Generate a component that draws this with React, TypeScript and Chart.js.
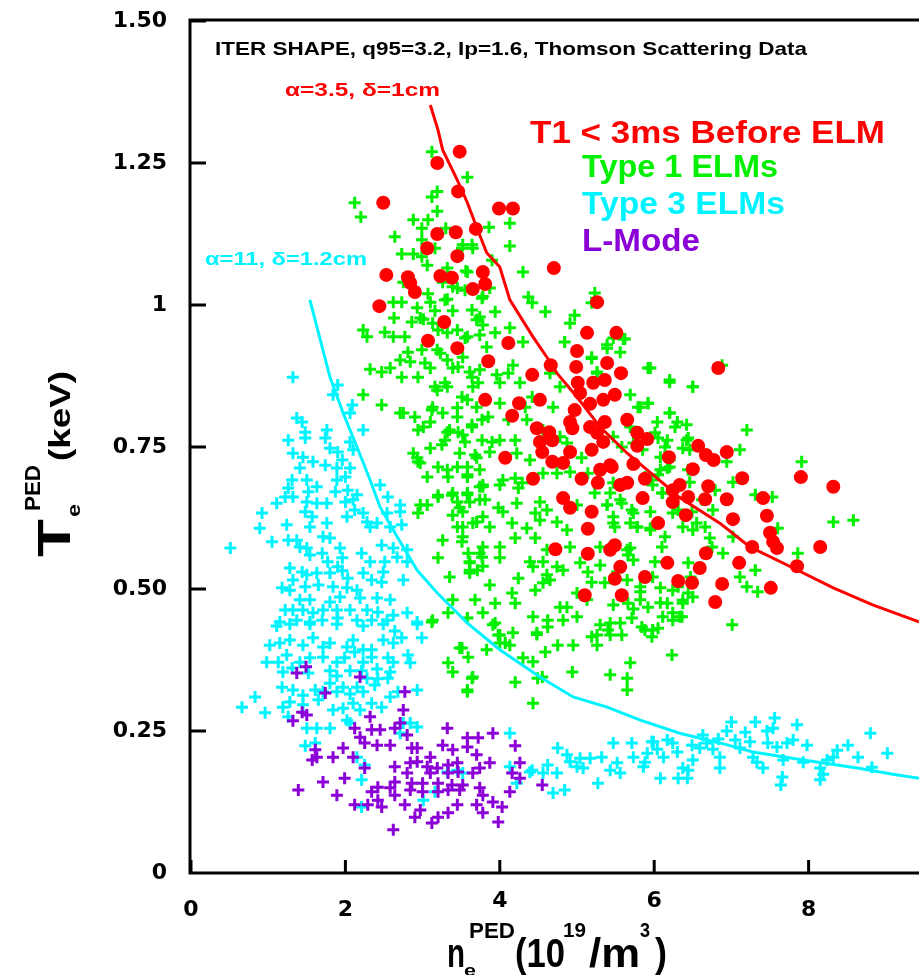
import React, { useEffect, useRef } from "react";
import { Chart, registerables } from "chart.js";

Chart.register(...registerables);

// ---------- axis ticks ----------
const xTickValues = [0, 2, 4, 6, 8];
const yTickLabels: Record<string, string> = {
  "0": "0", "0.25": "0.25", "0.5": "0.50", "0.75": "0.75", "1": "1", "1.25": "1.25", "1.5": "1.50",
};

// ---------- fit curves ----------
const curveAlpha35: number[][] = [
  [3.10, 1.352], [3.20, 1.308], [3.26, 1.273], [3.45, 1.220], [3.58, 1.180], [3.70, 1.137], [3.83, 1.092],
  [4.00, 1.067], [4.13, 1.009], [4.43, 0.944], [4.61, 0.908], [4.74, 0.880], [5.00, 0.838], [5.30, 0.785],
  [5.65, 0.739], [6.17, 0.680], [6.24, 0.669], [6.85, 0.616], [7.24, 0.574], [7.80, 0.537], [8.32, 0.502],
  [8.83, 0.472], [9.43, 0.442],
];
const curveAlpha11: number[][] = [
  [1.54, 1.009], [1.80, 0.873], [1.97, 0.810], [2.15, 0.750], [2.32, 0.692], [2.45, 0.644], [2.67, 0.592],
  [2.93, 0.533], [3.19, 0.493], [3.58, 0.440], [4.00, 0.393], [4.52, 0.345], [4.95, 0.310], [5.39, 0.292],
  [5.82, 0.269], [6.33, 0.246], [6.85, 0.229], [7.28, 0.213], [7.93, 0.199], [8.63, 0.185], [9.09, 0.174],
  [9.43, 0.167],
];

// ---------- T1 < 3ms before ELM ----------
const t1BeforeElm: number[][] = [
  [3.48, 1.27], [3.19, 1.25], [3.46, 1.20], [2.49, 1.18], [3.99, 1.17], [4.17, 1.17], [3.19, 1.125], [3.43, 1.128],
  [3.69, 1.134], [3.06, 1.10], [3.45, 1.086], [2.53, 1.053], [2.81, 1.049], [2.84, 1.039], [2.90, 1.023], [3.23, 1.051],
  [3.38, 1.048], [3.65, 1.028], [3.78, 1.058], [3.81, 1.037], [2.44, 0.998], [3.28, 0.970], [3.07, 0.937], [3.45, 0.924],
  [3.85, 0.901], [4.70, 1.065], [5.26, 1.005], [4.11, 0.933], [5.13, 0.951], [5.51, 0.951], [5.00, 0.919], [4.66, 0.894],
  [4.99, 0.891], [5.39, 0.898], [5.57, 0.880], [4.42, 0.877], [5.01, 0.863], [5.21, 0.863], [5.36, 0.868], [5.04, 0.845],
  [5.34, 0.833], [5.49, 0.842], [3.81, 0.833], [4.25, 0.827], [4.52, 0.833], [5.17, 0.826], [4.16, 0.805], [4.97, 0.815],
  [4.91, 0.794], [4.94, 0.783], [4.48, 0.783], [4.64, 0.776], [5.17, 0.785], [5.36, 0.794], [5.65, 0.798], [5.26, 0.775],
  [4.68, 0.762], [4.52, 0.759], [5.34, 0.759], [5.78, 0.775], [5.91, 0.764], [5.78, 0.752], [4.55, 0.741], [4.91, 0.741],
  [5.19, 0.745], [4.68, 0.724], [4.82, 0.722], [4.07, 0.731], [5.73, 0.720], [6.19, 0.732], [6.50, 0.711], [4.43, 0.694],
  [5.06, 0.694], [5.30, 0.710], [5.45, 0.715], [5.56, 0.683], [5.65, 0.687], [5.88, 0.694], [6.33, 0.683], [6.57, 0.752],
  [6.67, 0.736], [6.77, 0.727], [6.94, 0.741], [5.43, 0.718], [7.14, 0.695], [6.70, 0.681], [6.24, 0.674], [6.44, 0.662],
  [6.24, 0.653], [6.66, 0.658], [6.94, 0.658], [7.41, 0.660], [5.85, 0.660], [7.90, 0.697], [8.32, 0.680], [6.41, 0.630],
  [6.05, 0.616], [7.02, 0.623], [7.46, 0.629], [7.50, 0.599], [7.54, 0.583], [7.59, 0.572], [7.27, 0.574], [8.15, 0.574],
  [6.67, 0.563], [5.49, 0.577], [5.43, 0.569], [6.17, 0.546], [6.59, 0.537], [7.10, 0.546], [7.85, 0.540], [5.56, 0.539],
  [5.49, 0.518], [5.88, 0.521], [6.31, 0.514], [6.49, 0.511], [6.88, 0.509], [7.51, 0.502], [5.58, 0.489], [6.79, 0.477],
  [5.27, 0.687], [4.82, 0.660], [4.91, 0.643], [5.19, 0.636], [5.14, 0.606], [4.72, 0.570], [5.14, 0.562], [5.10, 0.489],
  [6.83, 0.889],
];

// ---------- Type 1 ELMs ----------
const type1Elms: number[][] = [
  [3.12, 1.27], [3.58, 1.225], [3.19, 1.20], [3.12, 1.19], [3.19, 1.165], [2.12, 1.18], [2.20, 1.155], [2.88, 1.15],
  [3.07, 1.15], [2.64, 1.12], [2.99, 1.135], [3.30, 1.135], [2.99, 1.115], [3.16, 1.10], [3.65, 1.10], [3.51, 1.10],
  [2.73, 1.09], [2.88, 1.09], [2.99, 1.085], [3.06, 1.07], [3.32, 1.065], [3.56, 1.06], [3.35, 1.05], [2.75, 1.04],
  [3.07, 1.02], [3.26, 1.04], [3.45, 1.03], [3.78, 1.015], [2.62, 1.005], [2.73, 1.005], [2.93, 0.995], [3.10, 1.005],
  [3.16, 0.99], [3.32, 1.01], [3.39, 0.99], [2.63, 0.977], [2.86, 0.97], [3.01, 0.975], [3.13, 0.968], [2.23, 0.956],
  [2.28, 0.944], [2.51, 0.952], [2.62, 0.944], [2.77, 0.944], [3.20, 0.956], [3.32, 0.951], [3.45, 0.956], [3.58, 0.944],
  [3.70, 0.974], [3.78, 0.965], [3.74, 0.947], [2.81, 0.917], [2.99, 0.921], [3.19, 0.921], [2.71, 0.903], [2.84, 0.90],
  [3.03, 0.898], [3.32, 0.903], [3.52, 0.908], [3.10, 0.889], [3.39, 0.889], [2.32, 0.887], [2.47, 0.882], [2.58, 0.889],
  [2.73, 0.873], [2.94, 0.873], [3.61, 0.882], [3.74, 0.886], [4.13, 1.144], [3.86, 1.137], [4.13, 1.104], [3.52, 1.106],
  [3.64, 1.106], [3.90, 1.079], [4.30, 1.058], [3.58, 1.058], [3.39, 1.032], [3.55, 1.026], [3.77, 1.012], [3.87, 1.03],
  [4.37, 1.014], [4.42, 1.004], [4.59, 0.988], [4.97, 0.982], [4.91, 0.968], [5.19, 1.004], [2.97, 0.977], [3.29, 1.009],
  [3.64, 0.991], [3.74, 0.979], [3.94, 0.988], [4.13, 0.96], [3.94, 0.951], [3.55, 0.942], [3.83, 0.926], [4.30, 0.935],
  [4.84, 0.935], [5.47, 0.942], [5.62, 0.94], [5.39, 0.924], [5.19, 0.908], [3.23, 0.915], [3.46, 0.891], [3.64, 0.873],
  [3.96, 0.877], [4.17, 0.894], [4.65, 0.88], [4.78, 0.856], [5.26, 0.882], [3.16, 0.856], [3.29, 0.863], [3.72, 0.863],
  [4.00, 0.863], [4.11, 0.88], [4.26, 0.863], [4.42, 0.838], [5.95, 0.889], [6.20, 0.868], [6.50, 0.856], [5.92, 0.827],
  [5.82, 0.82], [6.20, 0.81], [6.42, 0.789], [6.30, 0.794], [6.04, 0.794], [6.01, 0.775], [6.17, 0.762], [6.42, 0.762],
  [6.08, 0.732], [6.20, 0.715], [6.44, 0.71], [3.51, 0.838], [3.58, 0.833], [3.70, 0.82], [3.13, 0.82], [2.90, 0.803],
  [2.75, 0.81], [3.01, 0.785], [3.26, 0.81], [3.45, 0.803], [3.64, 0.785], [3.85, 0.803], [4.00, 0.827], [4.11, 0.798],
  [4.33, 0.82], [4.35, 0.798], [4.49, 0.833], [4.69, 0.82], [3.35, 0.78], [3.52, 0.771], [3.29, 0.762], [3.77, 0.762],
  [3.90, 0.759], [4.00, 0.762], [4.20, 0.762], [2.88, 0.739], [3.10, 0.748], [3.48, 0.739], [3.68, 0.736], [3.87, 0.741],
  [4.22, 0.739], [4.39, 0.727], [2.94, 0.724], [3.32, 0.71], [3.45, 0.715], [3.74, 0.71], [3.06, 0.697], [3.58, 0.701],
  [3.78, 0.683], [4.04, 0.692], [4.20, 0.695], [4.29, 0.687], [4.56, 0.704], [4.74, 0.704], [4.91, 0.706], [5.14, 0.704],
  [5.47, 0.687], [5.97, 0.692], [6.08, 0.71], [5.85, 0.745], [5.73, 0.757], [5.58, 0.75], [5.06, 0.731], [4.87, 0.757],
  [4.78, 0.768], [4.56, 0.78], [5.47, 0.768], [5.69, 0.785],
  [2.97, 0.648], [3.06, 0.648], [3.20, 0.665], [3.38, 0.665], [3.58, 0.669], [3.74, 0.68], [4.00, 0.683], [4.24, 0.678],
  [4.52, 0.653], [4.61, 0.639], [4.46, 0.634], [4.22, 0.651], [3.98, 0.643], [3.81, 0.657], [3.61, 0.653], [3.48, 0.643],
  [3.39, 0.63], [3.70, 0.618], [3.87, 0.609], [4.04, 0.636], [4.16, 0.616], [4.35, 0.607], [4.52, 0.621], [4.74, 0.618],
  [4.87, 0.604], [5.00, 0.648], [5.23, 0.669], [5.39, 0.648], [5.58, 0.651], [5.73, 0.634], [5.47, 0.616], [5.69, 0.616],
  [5.78, 0.609], [5.95, 0.604], [6.24, 0.634], [6.11, 0.669], [6.37, 0.609], [6.50, 0.604], [3.26, 0.586], [3.51, 0.583],
  [3.78, 0.574], [4.00, 0.574], [4.20, 0.59], [4.46, 0.59], [4.61, 0.569], [4.91, 0.574], [5.30, 0.574], [5.65, 0.569],
  [5.73, 0.551], [3.20, 0.555], [3.61, 0.548], [3.77, 0.556], [4.00, 0.555], [4.39, 0.548], [4.56, 0.548], [4.74, 0.539],
  [5.04, 0.546], [5.30, 0.542], [3.61, 0.533], [3.71, 0.533], [4.43, 0.539], [4.61, 0.525], [4.82, 0.533], [5.14, 0.53],
  [3.35, 0.521], [3.87, 0.507], [4.24, 0.519], [4.56, 0.511], [4.65, 0.516], [5.19, 0.512], [5.36, 0.511], [5.65, 0.516],
  [5.82, 0.504], [5.98, 0.521], [6.08, 0.502], [6.24, 0.498], [6.31, 0.504], [6.44, 0.493], [6.50, 0.486], [4.16, 0.493],
  [4.46, 0.498], [5.00, 0.493], [5.13, 0.481], [5.47, 0.472], [5.66, 0.475], [5.82, 0.481], [5.92, 0.468], [6.17, 0.475],
  [6.37, 0.475], [3.39, 0.481], [3.68, 0.481], [3.94, 0.475], [4.20, 0.475], [4.78, 0.468], [4.87, 0.468], [5.00, 0.451],
  [5.30, 0.437], [5.43, 0.44], [5.56, 0.44], [5.26, 0.419], [5.43, 0.419], [5.58, 0.419], [5.19, 0.416], [5.26, 0.401],
  [5.84, 0.433], [5.98, 0.428], [6.11, 0.451], [6.24, 0.445], [6.33, 0.451], [6.23, 0.384], [3.33, 0.458], [3.58, 0.449],
  [3.78, 0.458], [3.94, 0.44], [3.12, 0.442], [4.43, 0.451], [4.62, 0.445], [4.82, 0.445], [4.48, 0.423], [4.62, 0.433],
  [3.98, 0.419], [4.17, 0.423], [4.00, 0.405], [4.13, 0.401], [4.75, 0.401], [4.95, 0.401], [4.59, 0.389], [3.83, 0.393],
  [3.51, 0.396], [3.59, 0.38], [4.30, 0.379], [4.43, 0.372], [3.33, 0.37], [3.39, 0.354], [3.64, 0.343], [4.20, 0.336],
  [4.49, 0.343], [4.94, 0.354], [5.43, 0.349], [5.65, 0.343], [5.69, 0.37], [5.65, 0.322], [3.58, 0.322], [4.43, 0.299],
  [2.23, 0.842], [2.47, 0.824], [2.71, 0.81], [2.94, 0.78], [3.12, 0.815], [3.10, 0.794], [3.19, 0.85], [3.32, 0.856],
  [3.45, 0.819], [3.32, 0.776], [3.46, 0.776], [3.65, 0.856], [3.64, 0.789], [3.77, 0.798], [3.25, 0.754], [3.55, 0.759],
  [2.93, 0.731], [2.97, 0.722], [3.20, 0.715], [3.58, 0.715], [3.70, 0.731], [3.33, 0.697], [3.58, 0.697], [3.78, 0.68],
  [3.20, 0.662], [3.39, 0.669], [3.58, 0.666], [3.74, 0.657], [2.94, 0.634], [3.45, 0.653], [3.52, 0.636], [3.45, 0.609],
  [3.52, 0.609], [3.65, 0.616], [3.78, 0.627], [3.52, 0.592], [3.59, 0.563], [3.74, 0.563], [3.61, 0.546], [3.78, 0.54],
  [3.61, 0.528], [3.13, 0.445], [3.48, 0.396], [3.65, 0.345], [3.58, 0.319], [3.91, 0.437], [4.00, 0.419], [4.07, 0.405],
  [4.48, 0.42], [4.55, 0.345],
  [7.20, 0.78], [7.11, 0.745], [6.94, 0.724], [7.91, 0.724], [7.02, 0.688], [7.53, 0.662], [7.31, 0.666], [6.79, 0.674],
  [6.62, 0.657], [6.76, 0.639], [6.66, 0.609], [7.02, 0.592], [7.60, 0.607], [8.32, 0.618], [8.58, 0.621], [7.86, 0.563],
  [7.31, 0.533], [7.11, 0.521], [7.20, 0.504], [7.34, 0.495], [7.01, 0.437], [6.72, 0.590], [6.75, 0.574], [6.89, 0.563],
  [6.44, 0.546], [6.47, 0.521], [6.37, 0.48], [6.24, 0.458], [6.36, 0.451], [6.08, 0.476], [5.88, 0.428], [6.05, 0.431],
  [5.97, 0.416], [5.40, 0.428], [5.71, 0.449], [5.82, 0.495], [5.73, 0.465], [5.66, 0.56], [5.69, 0.572], [5.52, 0.530],
  [6.01, 0.548], [6.10, 0.574], [6.14, 0.592], [5.95, 0.607], [5.78, 0.609], [5.49, 0.609], [5.47, 0.627], [5.71, 0.639],
  [5.95, 0.636], [6.31, 0.639], [6.49, 0.636], [6.27, 0.660], [6.10, 0.669], [5.98, 0.683], [6.55, 0.616], [6.46, 0.688],
  [5.43, 0.669], [5.56, 0.657], [5.39, 0.648], [6.14, 0.750], [6.27, 0.785], [6.37, 0.748], [6.46, 0.745], [6.44, 0.766],
  [6.05, 0.766], [6.20, 0.727], [6.17, 0.713], [6.05, 0.701], [5.88, 0.697],
  [5.23, 1.021], [5.60, 0.94], [5.39, 0.93], [5.56, 0.917], [5.19, 0.906], [5.26, 0.88], [5.92, 0.889], [6.20, 0.864],
  [6.50, 0.856], [5.69, 0.842], [5.92, 0.827], [5.79, 0.820], [6.20, 0.810], [6.88, 0.894],
];

// ---------- Type 3 ELMs ----------
const type3Elms: number[][] = [
  [1.32, 0.873], [1.37, 0.801], [1.44, 0.794], [1.48, 0.776], [1.48, 0.766], [1.26, 0.762], [1.76, 0.780], [1.74, 0.766],
  [2.23, 0.780], [2.06, 0.759], [2.10, 0.745], [2.09, 0.824], [2.06, 0.810], [1.84, 0.842], [1.90, 0.859], [1.32, 0.739],
  [1.45, 0.732], [1.58, 0.724], [1.41, 0.713], [1.80, 0.748], [1.90, 0.741], [1.96, 0.727], [1.74, 0.718], [1.89, 0.713],
  [2.06, 0.713], [2.00, 0.697], [1.89, 0.692], [1.31, 0.692], [1.50, 0.692], [1.63, 0.680], [1.52, 0.671], [1.26, 0.678],
  [1.22, 0.662], [1.32, 0.662], [1.11, 0.651], [1.50, 0.653], [1.63, 0.651], [1.76, 0.651], [1.87, 0.671], [2.03, 0.674],
  [2.15, 0.666], [2.10, 0.657], [2.00, 0.653], [2.45, 0.683], [2.55, 0.662], [2.71, 0.648], [2.71, 0.636], [2.54, 0.634],
  [2.12, 0.639], [2.23, 0.634], [2.28, 0.618], [2.41, 0.616], [2.32, 0.609], [2.58, 0.609], [2.73, 0.613], [2.02, 0.627],
  [1.76, 0.616], [1.54, 0.609], [1.57, 0.627], [1.48, 0.636], [1.24, 0.613], [0.92, 0.634], [0.89, 0.607], [1.05, 0.583],
  [0.51, 0.572], [1.26, 0.586], [1.37, 0.586], [1.41, 0.574], [1.50, 0.572], [1.54, 0.560], [1.71, 0.592], [1.70, 0.563],
  [1.80, 0.590], [1.93, 0.572], [1.96, 0.555], [1.77, 0.548], [1.90, 0.539], [2.21, 0.563], [2.32, 0.548], [2.47, 0.577],
  [2.62, 0.572], [2.67, 0.556], [2.51, 0.548], [2.80, 0.569], [2.80, 0.548], [2.23, 0.528], [2.34, 0.516], [2.49, 0.530],
  [2.47, 0.512], [2.75, 0.516], [1.28, 0.537], [1.44, 0.530], [1.50, 0.525], [1.63, 0.528], [1.80, 0.528], [1.96, 0.532],
  [2.03, 0.519], [1.32, 0.516], [1.18, 0.502], [1.28, 0.498], [1.48, 0.504], [1.65, 0.507], [1.84, 0.504], [2.02, 0.502],
  [2.15, 0.498], [2.19, 0.484], [2.41, 0.484], [2.58, 0.481], [1.41, 0.481], [1.54, 0.481], [1.80, 0.477], [1.93, 0.486],
  [1.22, 0.463], [1.32, 0.463], [1.45, 0.463], [1.58, 0.458], [1.71, 0.463], [1.89, 0.463], [2.06, 0.463], [2.28, 0.463],
  [2.42, 0.459], [2.62, 0.454], [2.80, 0.458], [2.93, 0.442], [1.15, 0.442], [1.37, 0.445], [1.54, 0.442], [1.70, 0.445],
  [1.90, 0.449], [2.15, 0.445], [2.34, 0.445], [2.54, 0.445],
  [1.11, 0.435], [1.28, 0.438], [1.54, 0.438], [1.89, 0.438], [2.23, 0.435], [2.49, 0.438], [2.64, 0.426], [2.93, 0.438],
  [2.99, 0.414], [1.02, 0.401], [1.15, 0.405], [1.28, 0.410], [1.45, 0.401], [1.58, 0.414], [1.71, 0.398], [1.80, 0.405],
  [2.02, 0.398], [2.10, 0.410], [2.23, 0.393], [2.34, 0.393], [2.49, 0.410], [2.62, 0.405], [2.73, 0.414], [0.98, 0.371],
  [1.13, 0.371], [1.24, 0.384], [1.41, 0.371], [1.54, 0.379], [1.71, 0.380], [1.89, 0.371], [1.99, 0.379], [2.12, 0.389],
  [2.23, 0.371], [2.34, 0.380], [2.55, 0.379], [2.81, 0.384], [2.84, 0.370], [2.62, 0.371], [1.19, 0.354], [1.31, 0.361],
  [1.52, 0.352], [1.80, 0.356], [1.89, 0.347], [2.06, 0.356], [2.21, 0.356], [2.28, 0.343], [2.41, 0.359], [2.42, 0.342],
  [2.58, 0.354], [2.55, 0.343], [1.18, 0.327], [1.32, 0.322], [1.45, 0.313], [1.61, 0.322], [1.71, 0.319], [1.80, 0.334],
  [1.89, 0.319], [1.97, 0.327], [2.06, 0.315], [2.15, 0.327], [2.23, 0.319], [2.38, 0.331], [2.58, 0.310], [2.68, 0.319],
  [2.93, 0.322], [0.66, 0.292], [0.83, 0.310], [0.96, 0.282], [1.19, 0.292], [1.28, 0.301], [1.45, 0.296], [1.65, 0.305],
  [1.84, 0.287], [1.97, 0.290], [2.10, 0.299], [2.19, 0.287], [2.34, 0.299], [2.47, 0.292], [1.26, 0.275], [1.50, 0.255],
  [1.63, 0.255], [1.80, 0.255], [2.02, 0.269], [2.06, 0.264], [1.48, 0.224], [1.61, 0.229], [2.75, 0.264], [2.93, 0.257],
  [2.71, 0.246], [2.84, 0.264], [2.15, 0.204], [2.25, 0.190], [2.21, 0.164], [2.21, 0.116], [3.01, 0.128], [3.16, 0.143],
  [3.32, 0.178], [3.45, 0.181], [4.13, 0.246], [4.13, 0.187], [4.39, 0.178], [4.22, 0.158], [3.52, 0.176],
  [4.42, 0.181], [4.56, 0.176], [4.69, 0.141], [4.84, 0.146], [4.62, 0.190], [4.75, 0.220], [4.74, 0.176], [4.87, 0.208],
  [4.91, 0.196], [5.00, 0.187], [5.04, 0.202], [5.17, 0.202], [5.08, 0.185], [5.27, 0.158], [5.32, 0.204], [5.43, 0.181],
  [5.47, 0.229], [5.52, 0.194], [5.56, 0.176], [5.71, 0.229], [5.73, 0.204], [5.86, 0.187], [5.88, 0.195], [5.97, 0.231],
  [6.08, 0.167], [6.04, 0.218], [6.12, 0.204], [6.17, 0.234], [6.24, 0.229], [6.30, 0.213], [6.31, 0.167], [6.43, 0.167],
  [6.37, 0.185], [6.44, 0.181], [6.49, 0.225], [6.59, 0.220], [6.63, 0.243], [6.68, 0.229], [6.76, 0.218], [6.83, 0.236],
  [6.85, 0.204], [6.85, 0.185], [6.94, 0.250], [7.00, 0.266], [7.05, 0.234], [7.11, 0.220], [7.18, 0.248], [7.24, 0.231],
  [7.28, 0.204], [7.31, 0.266], [7.33, 0.195], [7.41, 0.185], [7.46, 0.250], [7.54, 0.255], [7.56, 0.273], [7.47, 0.229],
  [7.59, 0.222], [7.67, 0.199], [7.72, 0.229], [7.80, 0.234], [7.85, 0.261], [7.66, 0.169], [7.64, 0.155], [7.93, 0.195],
  [7.98, 0.225], [8.15, 0.185], [8.19, 0.174], [8.24, 0.199], [8.32, 0.204], [8.37, 0.216], [8.51, 0.225], [8.64, 0.204],
  [8.80, 0.246], [8.82, 0.186], [9.02, 0.211], [8.15, 0.164], [5.99, 0.231], [5.91, 0.211], [6.50, 0.199],
];

// ---------- L-Mode ----------
const lMode: number[][] = [
  [1.37, 0.352], [1.49, 0.363], [2.19, 0.345], [1.74, 0.317], [1.44, 0.283], [1.50, 0.278], [1.32, 0.268], [2.32, 0.275],
  [2.12, 0.255], [2.34, 0.252], [2.45, 0.252], [2.64, 0.255], [2.71, 0.264], [2.75, 0.287], [2.77, 0.319], [2.80, 0.243],
  [2.19, 0.239], [2.25, 0.229], [2.41, 0.225], [2.58, 0.225], [1.61, 0.217], [1.63, 0.204], [1.57, 0.199], [1.84, 0.204],
  [1.97, 0.220], [2.10, 0.204], [2.86, 0.220], [2.93, 0.220], [3.32, 0.255], [3.58, 0.238], [3.72, 0.238], [3.91, 0.246],
  [3.26, 0.225], [3.39, 0.217], [3.58, 0.222], [3.10, 0.204], [3.70, 0.208], [4.20, 0.224], [2.25, 0.185], [2.64, 0.187],
  [2.84, 0.194], [2.93, 0.196], [3.06, 0.187], [3.19, 0.185], [3.33, 0.190], [3.45, 0.194], [3.46, 0.178], [3.74, 0.185],
  [3.87, 0.194], [4.26, 0.194], [1.99, 0.167], [1.71, 0.160], [2.80, 0.176], [3.10, 0.176], [3.33, 0.176], [3.65, 0.176],
  [4.16, 0.176], [2.64, 0.160], [2.86, 0.158], [3.00, 0.158], [3.20, 0.158], [3.38, 0.155], [3.52, 0.155], [2.58, 0.150],
  [2.34, 0.143], [2.42, 0.151], [1.39, 0.146], [1.89, 0.137], [2.64, 0.137], [2.84, 0.146], [3.00, 0.143], [3.20, 0.143],
  [3.33, 0.146], [3.48, 0.146], [3.74, 0.150], [3.78, 0.137], [4.13, 0.143], [2.42, 0.128], [2.77, 0.120], [2.12, 0.120],
  [2.29, 0.120], [2.47, 0.116], [2.97, 0.111], [3.45, 0.120], [3.70, 0.120], [3.91, 0.125], [4.03, 0.116], [2.90, 0.098],
  [3.20, 0.098], [3.33, 0.106], [3.78, 0.106], [3.98, 0.090], [3.12, 0.088], [2.62, 0.076], [4.55, 0.155], [4.26, 0.167],
];

const RED = "#ff0000";
const GREEN = "#00f000";
const CYAN = "#00f4ff";
const PURPLE = "#8a00d6";
const FONT = "'Liberation Sans', Arial, sans-serif";
const TICK_FONT = "'DejaVu Sans', sans-serif";

const toXY = (pts: number[][]) => pts.map(([x, y]) => ({ x, y }));

function fitText(ctx: CanvasRenderingContext2D, s: string, x: number, y: number, font: string, color: string, w: number) {
  ctx.save();
  ctx.font = font;
  const m = ctx.measureText(s).width;
  ctx.translate(x, y);
  ctx.scale(w / m, 1);
  ctx.fillStyle = color;
  ctx.textBaseline = "alphabetic";
  ctx.textAlign = "left";
  ctx.fillText(s, 0, 0);
  ctx.restore();
}

const decorPlugin = {
  id: "decor",
  afterDraw(chart: any) {
    const { ctx, chartArea } = chart;
    const { left, top, right, bottom } = chartArea;
    const xs = chart.scales.x;
    const ys = chart.scales.y;
    ctx.save();
    ctx.strokeStyle = "#000";
    ctx.lineWidth = 3;
    ctx.lineCap = "butt";
    ctx.beginPath();
    ctx.moveTo(right + 2, top - 1);
    ctx.lineTo(left - 1, top - 1);
    ctx.lineTo(left - 1, bottom);
    ctx.lineTo(right + 2, bottom);
    ys.ticks.forEach((t: any) => {
      const py = ys.getPixelForValue(t.value);
      ctx.moveTo(left - 1, py);
      ctx.lineTo(left + 15, py);
    });
    xs.ticks.forEach((t: any) => {
      const px = xs.getPixelForValue(t.value);
      ctx.moveTo(px, bottom);
      ctx.lineTo(px, bottom - 13);
    });
    ctx.stroke();
    ctx.restore();

    // header and annotations
    fitText(ctx, "ITER SHAPE, q95=3.2, Ip=1.6, Thomson Scattering Data", 215, 55, `bold 19px ${FONT}`, "#000", 592);
    fitText(ctx, "α=3.5, δ=1cm", 285, 96, `bold 18px ${FONT}`, RED, 155);
    fitText(ctx, "α=11, δ=1.2cm", 205, 265, `bold 18px ${FONT}`, CYAN, 162);
    fitText(ctx, "T1 < 3ms Before ELM", 530, 143, `bold 32px ${FONT}`, RED, 355);
    fitText(ctx, "Type 1 ELMs", 582, 177, `bold 31px ${FONT}`, GREEN, 196);
    fitText(ctx, "Type 3 ELMs", 582, 214, `bold 31px ${FONT}`, CYAN, 203);
    fitText(ctx, "L-Mode", 582, 251, `bold 31px ${FONT}`, PURPLE, 118);

    // x axis title: n_e^PED(10^19/m^3)
    fitText(ctx, "n", 447, 967, `bold 40px ${FONT}`, "#000", 18);
    fitText(ctx, "e", 464, 976, `bold 17px ${FONT}`, "#000", 12);
    fitText(ctx, "PED", 469, 938, `bold 22px ${FONT}`, "#000", 46);
    fitText(ctx, "(10", 515, 967, `bold 40px ${FONT}`, "#000", 50);
    fitText(ctx, "19", 563, 937, `bold 20px ${FONT}`, "#000", 23);
    fitText(ctx, "/m", 589, 967, `bold 40px ${FONT}`, "#000", 51);
    fitText(ctx, "3", 640, 937, `bold 20px ${FONT}`, "#000", 10);
    fitText(ctx, ")", 655, 967, `bold 40px ${FONT}`, "#000", 12);

    // y axis title: T_e^PED(keV), rotated
    ctx.save();
    ctx.translate(70, 557);
    ctx.rotate(-Math.PI / 2);
    fitText(ctx, "T", 0, 0, `bold 46px ${FONT}`, "#000", 38);
    fitText(ctx, "e", 40, 10, `bold 18px ${FONT}`, "#000", 13);
    fitText(ctx, "PED", 46, -30, `bold 22px ${FONT}`, "#000", 46);
    fitText(ctx, "(keV)", 96, 0, `bold 30px ${FONT}`, "#000", 90);
    ctx.restore();
  },
};

export default function App() {
  const ref = useRef<HTMLCanvasElement | null>(null);
  useEffect(() => {
    if (!ref.current) return;
    const chart = new Chart(ref.current, {
      type: "scatter",
      data: {
        datasets: [
          { label: "α=3.5", data: toXY(curveAlpha35), showLine: true, borderColor: RED, borderWidth: 3, pointRadius: 0, fill: false },
          { label: "α=11", data: toXY(curveAlpha11), showLine: true, borderColor: CYAN, borderWidth: 3, pointRadius: 0, fill: false },
          { label: "T1 < 3ms Before ELM", data: toXY(t1BeforeElm), pointStyle: "circle", pointRadius: 7, backgroundColor: RED, borderWidth: 0 },
          { label: "Type 1 ELMs", data: toXY(type1Elms), pointStyle: "cross", pointRadius: 6, borderColor: GREEN, borderWidth: 3 },
          { label: "L-Mode", data: toXY(lMode), pointStyle: "cross", pointRadius: 6, borderColor: PURPLE, borderWidth: 3 },
          { label: "Type 3 ELMs", data: toXY(type3Elms), pointStyle: "cross", pointRadius: 6, borderColor: CYAN, borderWidth: 3 },
        ],
      },
      options: {
        responsive: false,
        devicePixelRatio: 1,
        animation: false,
        events: [],
        layout: { autoPadding: false, padding: { top: 21, right: 0, left: 0, bottom: 0 } },
        plugins: { legend: { display: false }, tooltip: { enabled: false } },
        scales: {
          x: {
            type: "linear",
            min: 0,
            max: 9.43,
            border: { display: false },
            grid: { display: false, drawTicks: false },
            afterFit: (s: any) => { s.height = 102; s.paddingLeft = 0; s.paddingRight = 0; s.paddingTop = 0; s.paddingBottom = 0; },
            afterBuildTicks: (s: any) => { s.ticks = xTickValues.map((v) => ({ value: v })); },
            ticks: {
              includeBounds: false,
              padding: 24,
              maxRotation: 0,
              color: "#000",
              font: (c: any) => {
                const v = c.tick ? c.tick.value : 0;
                const raised = v === 4 || v === 6;
                return { family: TICK_FONT, size: 22, weight: "bold", lineHeight: raised ? 0.4 : 1.2 };
              },
              callback: (v: any) => String(v),
            },
          },
          y: {
            type: "linear",
            min: 0,
            max: 1.5,
            border: { display: false },
            grid: { display: false, drawTicks: false },
            afterFit: (s: any) => { s.width = 191; s.paddingLeft = 0; s.paddingRight = 0; s.paddingTop = 0; s.paddingBottom = 0; },
            ticks: {
              stepSize: 0.25,
              padding: 24,
              color: "#000",
              font: { family: TICK_FONT, size: 22, weight: "bold" },
              callback: (v: any) => yTickLabels[String(v)] ?? String(v),
            },
          },
        },
      },
      plugins: [decorPlugin],
    } as any);
    return () => chart.destroy();
  }, []);
  return (
    <div style={{ position: "absolute", left: 0, top: 0, width: 919, height: 975, background: "#fff" }}>
      <canvas ref={ref} width={919} height={975} style={{ display: "block", width: 919, height: 975 }} />
    </div>
  );
}
